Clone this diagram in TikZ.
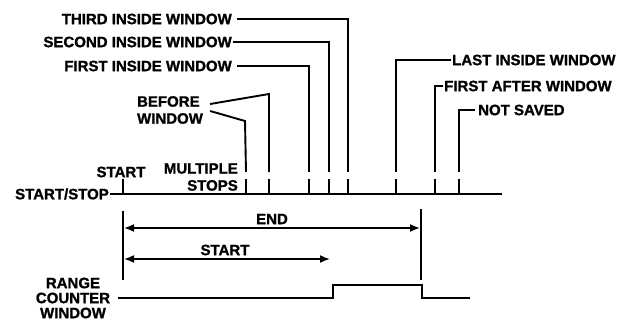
\documentclass[tikz,border=0pt]{standalone}
\usepackage{fontspec}
\setmainfont{Liberation Sans}[BoldFeatures={FakeBold=1.2}]
\usetikzlibrary{arrows.meta, calc}

\begin{document}
\begin{tikzpicture}[
    x=1pt, y=-1pt,
    >={Latex[length=10pt,width=8pt]},
    every node/.style={font=\bfseries\fontsize{15}{17}\selectfont, inner sep=1pt},
    lbl/.style={align=right},
    lead/.style={line width=1.9pt},
    tick/.style={line width=2pt},
    wave/.style={line width=2.2pt},
    dim/.style={<->, line width=1.6pt},
]
\useasboundingbox (0,0) rectangle (626,324);

% stop pulses on the start/stop line
\foreach \x [count=\i] in {123,246,269,309,329,348,396,435,459} {
    \draw[tick] (\x,179) -- (\x,194);
    \coordinate (t\i) at (\x,172);
}

\node[anchor=east] (ss) at (110,194) {START/STOP};
\coordinate (se) at (502,194);
\draw[tick] (ss.east) -- (se);

\node (st) at (121,172) {START};
\node[lbl, anchor=east] (ms) at (239,177) {MULTIPLE\\STOPS};

% labels and their leaders
\node[anchor=east] (third) at (233,19) {THIRD INSIDE WINDOW};
\node[anchor=east] (second) at (233,42) {SECOND INSIDE WINDOW};
\node[anchor=east] (first) at (233,66) {FIRST INSIDE WINDOW};
\node[align=left] (before) at (170,110) {BEFORE\\WINDOW};
\node[anchor=west] (last) at (451,60) {LAST INSIDE WINDOW};
\node[anchor=west] (after) at (443,86) {FIRST AFTER WINDOW};
\node[anchor=west] (ns) at (477,110) {NOT SAVED};

\draw[lead] ([xshift=4pt]third.east) -| (t6);
\draw[lead] (second.east) -| (t5);
\draw[lead] ([xshift=4pt]first.east) -| (t4);
\draw[lead] ($(before.east)+(6,-6)$) -- (269,94) -- (t3);
\draw[lead] ($(before.east)+(6,1)$) -- (245,121) -- (t2);
\draw[lead] (last.west) -| (t7);
\draw[lead] (after.west) -| (t8);
\draw[lead] ([xshift=-2pt]ns.west) -| (t9);

% start and end of the range
\coordinate (l0t) at (123,211);
\coordinate (l0b) at (123,280);
\coordinate (l1t) at (421,209);
\coordinate (l1b) at (421,280);
\draw[tick] (l0t) -- (l0b);
\draw[tick] (l1t) -- (l1b);

\coordinate (ea) at (124,228);
\coordinate (eb) at (420,228);
\coordinate (sa) at (124,259);
\coordinate (sb) at (330,259);
\draw[dim] (ea) -- (eb);
\draw[dim] (sa) -- (sb);
\node (endl) at (272,219) {END};
\node (startl) at (225,250) {START};

% range counter window
\node[align=center, font=\bfseries\fontsize{15}{15}\selectfont] (rcw) at (73,298) {RANGE\\COUNTER\\WINDOW};
\coordinate (w0) at (118,298);
\coordinate (w1) at (333,285);
\coordinate (w2) at (422,298);
\coordinate (w3) at (470,298);
\draw[wave] (w0) -| (w1) -| (w2) -- (w3);
\end{tikzpicture}
\end{document}
